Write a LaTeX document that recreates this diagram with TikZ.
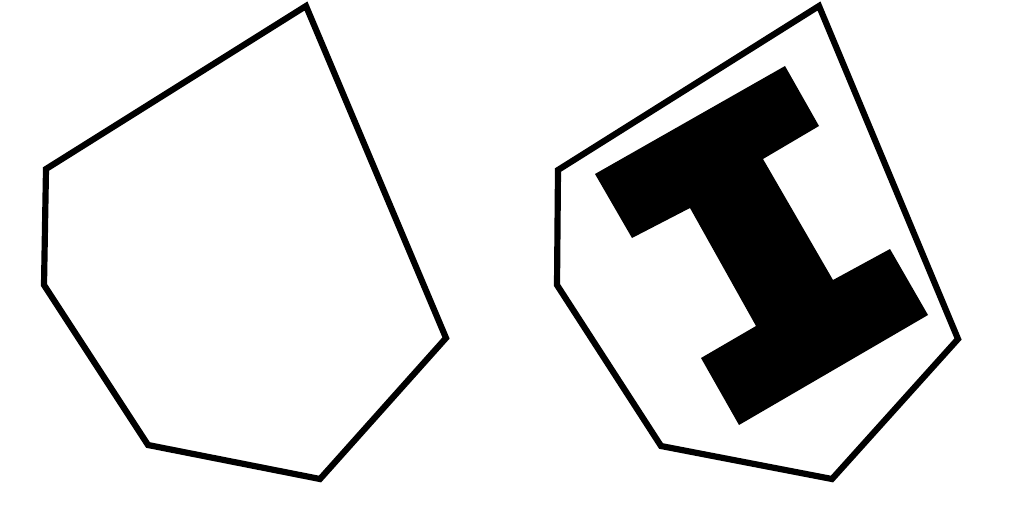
\documentclass[tikz,border=0pt]{standalone}
\usepackage{tikz}
\tikzset{
  hull/.style = {draw=black, line width=4.4pt, line join=miter},
  beam/.style = {fill=black, draw=none},
}
\begin{document}
\begin{tikzpicture}[x=0.025cm, y=-0.025cm]
  \useasboundingbox (0,0) rectangle (1024,512);

  % hull on its own
  \draw[hull] (46,169) -- (306,6) -- (446,338) -- (320,479)
              -- (148,445) -- (44,285) -- cycle;

  % hull round the I-shaped part
  \draw[hull] (558,170) -- (819,6) -- (958,339) -- (832,479)
              -- (661,446) -- (557,285) -- cycle;

  % the I-shaped part
  \fill[beam] (595,174) -- (785,66) -- (819,126) -- (763,159)
              -- (833,280) -- (890,249) -- (928,315) -- (739,425)
              -- (701,358) -- (756,326) -- (690,208) -- (632,238) -- cycle;
\end{tikzpicture}
\end{document}
